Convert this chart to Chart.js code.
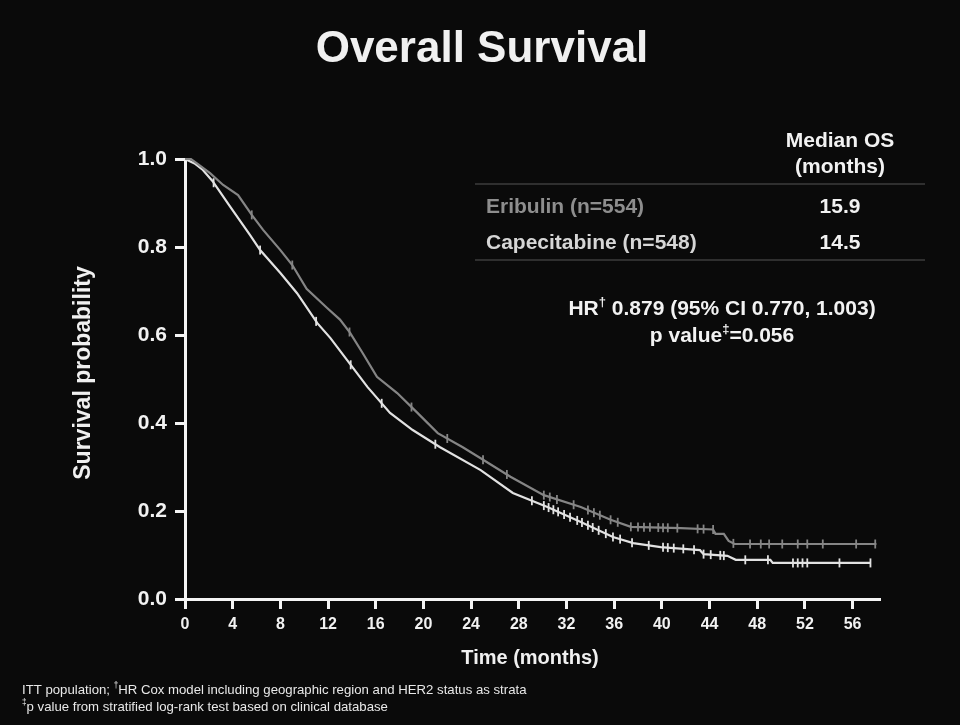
<!DOCTYPE html>
<html>
<head>
<meta charset="utf-8">
<title>Overall Survival</title>
<script src="https://cdn.jsdelivr.net/npm/chart.js@4.4.1/dist/chart.umd.min.js"></script>
<style>
  html, body { margin: 0; padding: 0; background: #0a0a0a; }
  #wrap { width: 960px; height: 725px; }
</style>
</head>
<body>
<div id="wrap"><canvas id="osChart" width="960" height="725"></canvas></div>
<script>
// Kaplan-Meier readings (months, survival probability)
const eribulinTime = [0, 0.5, 1.0, 2.1, 3.2, 4.45, 5.6, 6.55, 8.0, 9.0, 10.2, 11.9, 13.0, 13.85, 14.9, 16.1, 17.8, 19.5, 21.2, 23.3, 24.8, 27.3, 30.1, 33.2, 35.7, 37.4, 41.6, 44.3, 44.5, 45.2, 45.6, 46.1, 58.0];
const eribulinSurv = [1.0, 1.0, 0.99, 0.968, 0.941, 0.918, 0.873, 0.839, 0.793, 0.759, 0.705, 0.662, 0.635, 0.605, 0.559, 0.505, 0.468, 0.423, 0.377, 0.345, 0.32, 0.278, 0.236, 0.209, 0.18, 0.164, 0.161, 0.158, 0.148, 0.148, 0.132, 0.125, 0.125];

const capeTime = [0, 0.8, 1.5, 2.3, 3.8, 5.46, 6.3, 8.0, 9.4, 11.1, 12.2, 13.6, 15.3, 17.2, 19.1, 21.4, 24.8, 27.5, 30.4, 33.2, 35.9, 37.6, 39.9, 43.2, 43.5, 45.5, 46.2, 49.1, 49.3, 57.5];
const capeSurv = [1.0, 0.99, 0.975, 0.95, 0.891, 0.827, 0.793, 0.741, 0.695, 0.627, 0.593, 0.543, 0.482, 0.423, 0.384, 0.345, 0.293, 0.241, 0.209, 0.175, 0.141, 0.127, 0.118, 0.111, 0.102, 0.098, 0.089, 0.089, 0.082, 0.082];

// censoring times
const eribulinCensor = [5.6, 9.0, 13.8, 19.0, 22.0, 25.0, 27.0, 30.1, 30.6, 31.2, 32.6, 33.8, 34.3, 34.8, 35.7, 36.3, 37.4, 38.0, 38.5, 39.0, 39.7, 40.1, 40.5, 41.3, 43.0, 43.5, 44.3, 46.0, 47.4, 48.3, 49.0, 50.1, 51.4, 52.2, 53.5, 56.3, 57.9];
const capeCensor = [2.4, 6.3, 11.0, 13.9, 16.5, 21.0, 29.1, 30.1, 30.5, 30.9, 31.3, 31.8, 32.3, 32.9, 33.3, 33.8, 34.2, 34.7, 35.3, 35.9, 36.5, 37.5, 38.9, 40.1, 40.5, 41.0, 41.8, 42.7, 43.5, 44.1, 44.9, 45.2, 47.0, 48.9, 51.0, 51.4, 51.8, 52.2, 54.9, 57.5];

const timeTicks = [0, 4, 8, 12, 16, 20, 24, 28, 32, 36, 40, 44, 48, 52, 56];
const probTicks = [0.0, 0.2, 0.4, 0.6, 0.8, 1.0];

const armNames = ['Eribulin (n=554)', 'Capecitabine (n=548)'];
const armMedians = ['15.9', '14.5'];

const GREY = '#858585';
const LIGHT = '#e2e2e2';
const AXIS = '#f4f4f4';
const FONT = '"Liberation Sans", Arial, Helvetica, sans-serif';

function toPoints(times, surv) {
    return times.map((t, i) => ({ x: t, y: surv[i] }));
}

// place a censor tick on the drawn curve
function survAt(times, surv, t) {
    for (let i = 1; i < times.length; i++) {
        if (t <= times[i]) {
            const f = (t - times[i - 1]) / (times[i] - times[i - 1] || 1);
            return surv[i - 1] + f * (surv[i] - surv[i - 1]);
        }
    }
    return surv[surv.length - 1];
}

function censorPoints(censor, times, surv) {
    return censor.map(t => ({ x: t, y: survAt(times, surv, t) }));
}

function drawWithSup(ctx, parts, x, y, size, color, bold, centered) {
    const w = bold ? 'bold ' : '';
    const fontFor = sup => w + (sup ? size * 0.62 : size) + 'px ' + FONT;
    let total = 0;
    parts.forEach(([s, sup]) => { ctx.font = fontFor(sup); total += ctx.measureText(s).width; });
    let cx = centered ? x - total / 2 : x;
    ctx.textAlign = 'left';
    ctx.fillStyle = color;
    parts.forEach(([s, sup]) => {
        ctx.font = fontFor(sup);
        ctx.fillText(s, cx, sup ? y - size * 0.33 : y);
        cx += ctx.measureText(s).width;
    });
}

const textPlugin = {
    id: 'textPlugin',
    beforeDraw(chart) {
        const ctx = chart.ctx;
        ctx.save();
        ctx.fillStyle = '#0a0a0a';
        ctx.fillRect(0, 0, chart.width, chart.height);
        ctx.restore();
    },
    afterDraw(chart) {
        const ctx = chart.ctx;
        ctx.save();
        ctx.textBaseline = 'middle';

        // title
        ctx.fillStyle = '#f0f0f0';
        ctx.textAlign = 'center';
        ctx.font = 'bold 44px ' + FONT;
        ctx.fillText('Overall Survival', 482, 50);

        // axis titles
        ctx.font = 'bold 20px ' + FONT;
        ctx.fillText('Time (months)', 530, 658);
        ctx.save();
        ctx.translate(84, 373);
        ctx.rotate(-Math.PI / 2);
        ctx.font = 'bold 23px ' + FONT;
        ctx.fillText('Survival probability', 0, 0);
        ctx.restore();

        // median table
        ctx.font = 'bold 21px ' + FONT;
        ctx.fillStyle = '#f2f2f2';
        ctx.fillText('Median OS', 840, 141);
        ctx.fillText('(months)', 840, 167);
        ctx.strokeStyle = '#3c3c3c';
        ctx.lineWidth = 1.5;
        ctx.beginPath();
        ctx.moveTo(475, 184); ctx.lineTo(925, 184);
        ctx.moveTo(475, 260); ctx.lineTo(925, 260);
        ctx.stroke();

        const rowY = [207, 243];
        const rowColor = ['#8e8e8e', '#d6d6d6'];
        armNames.forEach((name, i) => {
            ctx.textAlign = 'left';
            ctx.fillStyle = rowColor[i];
            ctx.fillText(name, 486, rowY[i]);
            ctx.textAlign = 'center';
            ctx.fillStyle = '#f2f2f2';
            ctx.fillText(armMedians[i], 840, rowY[i]);
        });

        // hazard ratio lines with superscript marks
        drawWithSup(ctx, [['HR', false], ['\u2020', true], [' 0.879 (95% CI 0.770, 1.003)', false]], 722, 309, 21, '#f2f2f2', true, true);
        drawWithSup(ctx, [['p value', false], ['\u2021', true], ['=0.056', false]], 722, 336, 21, '#f2f2f2', true, true);

        // footnotes
        drawWithSup(ctx, [['ITT population; ', false], ['\u2020', true], ['HR Cox model including geographic region and HER2 status as strata', false]], 22, 690, 13.2, '#e8e8e8', false, false);
        drawWithSup(ctx, [['\u2021', true], ['p value from stratified log-rank test based on clinical database', false]], 22, 707, 13.2, '#e8e8e8', false, false);
        ctx.restore();
    }
};

const ctx = document.getElementById('osChart').getContext('2d');
new Chart(ctx, {
    type: 'line',
    data: {
        datasets: [
            {
                label: 'Eribulin',
                data: toPoints(eribulinTime, eribulinSurv),
                borderColor: GREY,
                borderWidth: 2.2,
                pointRadius: 0,
                tension: 0,
                clip: 6
            },
            {
                label: 'Capecitabine',
                data: toPoints(capeTime, capeSurv),
                borderColor: LIGHT,
                borderWidth: 2.2,
                pointRadius: 0,
                tension: 0,
                clip: 6
            },
            {
                label: 'Eribulin censored',
                data: censorPoints(eribulinCensor, eribulinTime, eribulinSurv),
                showLine: false,
                pointStyle: 'line',
                rotation: 90,
                pointRadius: 4.5,
                borderColor: GREY,
                pointBorderWidth: 1.8,
                clip: 6
            },
            {
                label: 'Capecitabine censored',
                data: censorPoints(capeCensor, capeTime, capeSurv),
                showLine: false,
                pointStyle: 'line',
                rotation: 90,
                pointRadius: 4.5,
                borderColor: LIGHT,
                pointBorderWidth: 1.8,
                clip: 6
            }
        ]
    },
    options: {
        responsive: false,
        animation: false,
        layout: { padding: { left: 0, right: 80, top: 159, bottom: 56 } },
        plugins: {
            legend: { display: false },
            tooltip: { enabled: false },
            title: { display: false }
        },
        scales: {
            x: {
                type: 'linear',
                min: 0,
                max: 58.3,
                afterBuildTicks: scale => { scale.ticks = timeTicks.map(v => ({ value: v })); },
                afterFit: scale => { scale.height = 70; },
                grid: {
                    display: true,
                    drawOnChartArea: false,
                    drawTicks: true,
                    tickLength: 10,
                    tickWidth: 3,
                    tickColor: AXIS
                },
                border: { display: true, color: AXIS, width: 3 },
                ticks: {
                    color: '#f2f2f2',
                    padding: 6,
                    maxRotation: 0,
                    font: { family: FONT, size: 16, weight: 'bold' },
                    callback: v => String(v)
                }
            },
            y: {
                min: 0,
                max: 1,
                afterBuildTicks: scale => { scale.ticks = probTicks.map(v => ({ value: v })); },
                afterFit: scale => { scale.width = 185; },
                grid: {
                    display: true,
                    drawOnChartArea: false,
                    drawTicks: true,
                    tickLength: 10,
                    tickWidth: 3,
                    tickColor: AXIS
                },
                border: { display: true, color: AXIS, width: 3 },
                ticks: {
                    color: '#f2f2f2',
                    padding: 8,
                    font: { family: FONT, size: 21, weight: 'bold' },
                    callback: v => Number(v).toFixed(1)
                }
            }
        }
    },
    plugins: [textPlugin]
});
</script>
</body>
</html>
